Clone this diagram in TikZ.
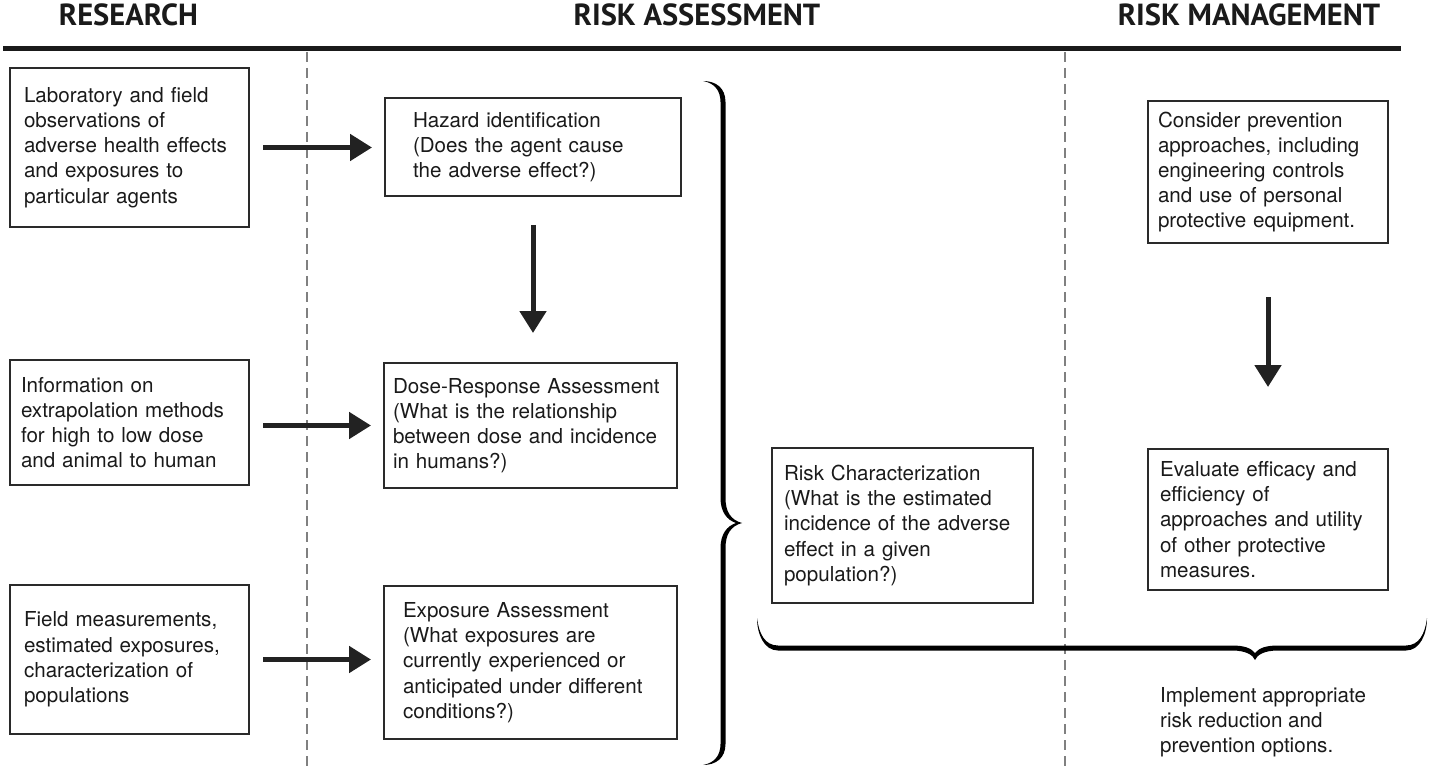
\documentclass[tikz,border=0pt]{standalone}
\usepackage{fontspec}
\setmainfont{TeX Gyre Heros}
\newfontfamily\hdfont{PT Sans}
\usetikzlibrary{arrows.meta}
\newcommand\diagbody{\fontsize{20.6}{25.2}\selectfont}
\newcommand\diaghead{\hdfont\bfseries\fontsize{30.5}{32}\selectfont}
\definecolor{boxc}{HTML}{2A2A2A}
\definecolor{txt}{HTML}{1A1A1A}
\definecolor{dashc}{HTML}{808080}
\definecolor{arrc}{HTML}{222222}
\begin{document}
\begin{tikzpicture}[x=1pt,y=-1pt,
  box/.style={draw=boxc, line width=2pt, anchor=north west, inner ysep=0pt, align=left, font=\diagbody, text=txt},
  arr/.style={line width=5pt, draw=arrc, -{Triangle[length=22pt,width=26pt]}},
  head/.style={font=\diaghead, text=txt, inner sep=0pt},
  dashline/.style={draw=dashc, line width=2pt, dash pattern=on 10pt off 6pt},
  bracefill/.style={fill=black, draw=none}]
\useasboundingbox (0,0) rectangle (1429,767);

% headers
\node[head] (hres) at (128.5,15) {RESEARCH};
\node[head] (hass) at (697,15) {RISK ASSESSMENT};
\node[head] (hman) at (1249,15) {RISK MANAGEMENT};

% rule and dashed separators
\draw[line width=5pt, draw=txt] (3,49) -- (1401,49);
\draw[dashline] (307,52) -- (307,767);
\draw[dashline] (1065,52) -- (1065,767);

% research boxes
\node[box, inner xsep=14pt, text width=211pt, minimum height=159pt] (r1) at (9,67)
  {Laboratory and field\\observations of\\adverse health effects\\and exposures to\\particular agents};
\node[box, inner xsep=11pt, text width=217pt, minimum height=125pt] (r2) at (9,359)
  {Information on\\extrapolation methods\\for high to low dose\\and animal to human};
\node[box, inner xsep=14pt, text width=211pt, minimum height=149pt] (r3) at (9,584)
  {Field measurements,\\estimated exposures,\\characterization of\\populations};

% risk assessment boxes
\node[box, inner xsep=28pt, text width=240pt, minimum height=98pt] (haz) at (384,97)
  {Hazard identification\\(Does the agent cause\\the adverse effect?)};
\node[box, inner xsep=9pt, text width=275pt, minimum height=125pt] (dose) at (383,362)
  {Dose-Response Assessment\\(What is the relationship\\between dose and incidence\\in humans?)};
\node[box, inner xsep=19pt, text width=255pt, minimum height=153pt] (expo) at (383,585)
  {Exposure Assessment\\(What exposures are\\currently experienced or\\anticipated under different\\conditions?)};
\node[box, inner xsep=12pt, text width=237pt, minimum height=155pt] (rc) at (771,447)
  {Risk Characterization\\(What is the estimated\\incidence of the adverse\\effect in a given\\population?)};

% risk management boxes
\node[box, inner xsep=10pt, text width=220pt, minimum height=142pt] (cons) at (1147,100)
  {Consider prevention\\approaches, including\\engineering controls\\and use of personal\\protective equipment.};
\node[box, inner xsep=12pt, text width=216pt, minimum height=141pt] (eval) at (1147,448)
  {Evaluate efficacy and\\efficiency of\\approaches and utility\\of other protective\\measures.};
\node[anchor=west, align=left, font=\diagbody, text=txt, inner sep=0pt] (impl) at (1160,722)
  {Implement appropriate\\risk reduction and\\prevention options.};

% arrows
\draw[arr, shorten <=13pt, shorten >=12pt] (r1.east) -- (r1.east -| haz.west);
\draw[arr, shorten <=13pt, shorten >=12pt] (r2.east |- dose.west) -- (dose.west);
\draw[arr, shorten <=13pt, shorten >=12pt] (r3.east) -- (r3.east -| expo.west);
\draw[arr, shorten <=28pt, shorten >=29pt] (haz.south) -- (haz.south |- dose.north);
\draw[arr, shorten <=53pt, shorten >=61pt] (cons.south) -- (cons.south |- eval.north);

% big right brace
\fill[bracefill] (703,81)
  .. controls (716,81) and (725.5,88) .. (725.5,102)
  -- (725.5,498)
  .. controls (725.5,512) and (731,520) .. (742,523)
  .. controls (731,526) and (725.5,534) .. (725.5,548)
  -- (725.5,744)
  .. controls (725.5,758) and (716,765) .. (703,765)
  .. controls (714,763) and (720.5,756) .. (720.5,744)
  -- (720.5,548)
  .. controls (720.5,534) and (727,526) .. (736,523)
  .. controls (727,520) and (720.5,512) .. (720.5,498)
  -- (720.5,102)
  .. controls (720.5,90) and (714,83) .. (703,81) -- cycle;

% bottom brace
\fill[bracefill] (757,618)
  .. controls (757,634) and (764,650.5) .. (778,650.5)
  -- (1232,650.5)
  .. controls (1246,650.5) and (1253,655) .. (1255,660)
  .. controls (1257,655) and (1264,650.5) .. (1278,650.5)
  -- (1406,650.5)
  .. controls (1420,650.5) and (1427,634) .. (1427,618)
  .. controls (1425,634) and (1419,645.5) .. (1406,645.5)
  -- (1278,645.5)
  .. controls (1266,645.5) and (1259,648) .. (1255,653)
  .. controls (1251,648) and (1244,645.5) .. (1232,645.5)
  -- (778,645.5)
  .. controls (765,645.5) and (759,634) .. (757,618) -- cycle;
\end{tikzpicture}
\end{document}
